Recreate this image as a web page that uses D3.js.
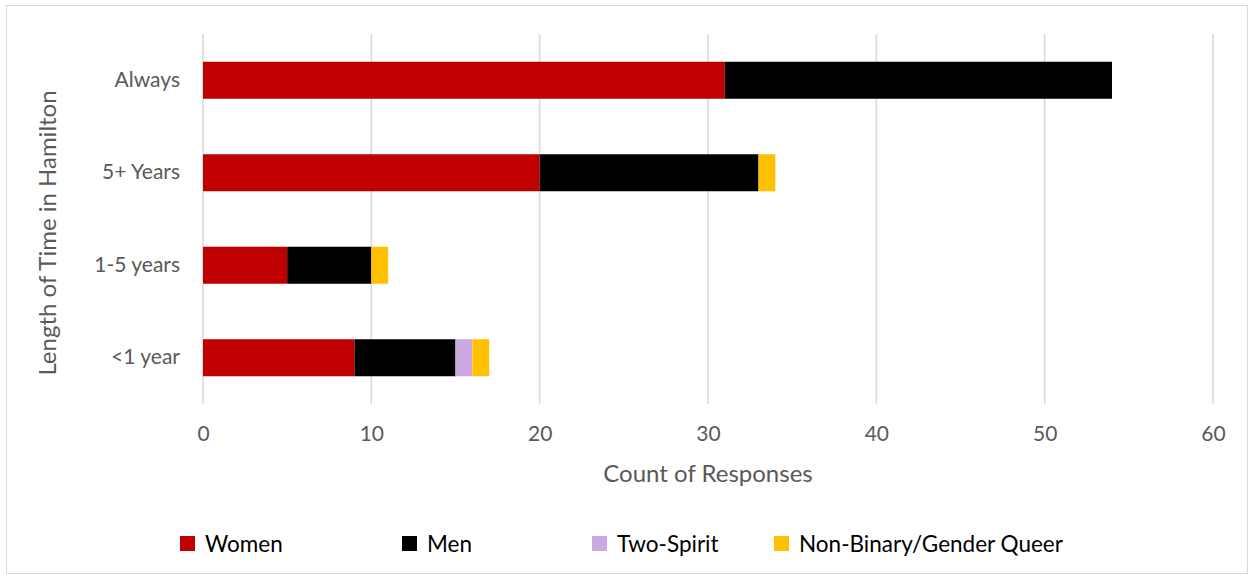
<!DOCTYPE html>
<html><head><meta charset="utf-8">
<script src="https://cdn.jsdelivr.net/npm/d3@7"></script>
<style>body{margin:0;background:#fff;} svg{display:block;}</style>
</head><body>
<svg id="c" width="1253" height="580"></svg>
<script>
const categories = ["Always", "5+ Years", "1-5 years", "<1 year"];
const seriesNames = ["Women", "Men", "Two-Spirit", "Non-Binary/Gender Queer"];
const women = [31, 20, 5, 9];
const men = [23, 13, 5, 6];
const twoSpirit = [0, 0, 0, 1];
const nonBinary = [0, 1, 1, 1];
const xTicks = [0, 10, 20, 30, 40, 50, 60];
const colors = ["#C00000", "#000000", "#CCA8E2", "#FFC000"];

const font = "Lato, 'Open Sans', sans-serif";
const svg = d3.select("#c");
svg.append("rect").attr("x", 6.5).attr("y", 5.5).attr("width", 1241).attr("height", 568)
  .attr("fill", "#fff").attr("stroke", "#d9d9d9");

const x = d3.scaleLinear().domain([0, 60]).range([203, 1213]);
const y = d3.scaleBand().domain(categories).range([34, 404]).paddingInner(0.6).paddingOuter(0.3);

const table = categories.map((c, i) => ({cat: c, "Women": women[i], "Men": men[i], "Two-Spirit": twoSpirit[i], "Non-Binary/Gender Queer": nonBinary[i]}));
const stack = d3.stack().keys(seriesNames)(table);

// gridlines
svg.append("g").selectAll("line").data(xTicks).join("line")
  .attr("x1", d => x(d)).attr("x2", d => x(d)).attr("y1", 34).attr("y2", 404)
  .attr("stroke", "#d9d9d9").attr("stroke-width", 1.5);

// bars
svg.append("g").selectAll("g").data(stack).join("g").attr("fill", (d, i) => colors[i])
  .selectAll("rect").data(d => d.filter(p => p[1] - p[0] > 0)).join("rect")
  .attr("x", d => x(d[0])).attr("width", d => x(d[1]) - x(d[0]))
  .attr("y", d => y(d.data.cat)).attr("height", y.bandwidth());

// x axis
const xAxis = svg.append("g").attr("transform", "translate(0,404)")
  .call(d3.axisBottom(x).tickValues(xTicks).tickSize(0).tickPadding(22));
xAxis.select(".domain").remove();
xAxis.selectAll("text").attr("font-family", font).attr("font-size", 21).attr("fill", "#595959");

// y axis
const yAxis = svg.append("g").attr("transform", "translate(180,0)")
  .call(d3.axisLeft(y).tickSize(0).tickPadding(0));
yAxis.select(".domain").remove();
yAxis.selectAll("text").attr("font-family", font).attr("font-size", 21).attr("fill", "#595959");

// titles
svg.append("text").attr("x", x(30)).attr("y", 482).attr("text-anchor", "middle")
  .attr("font-family", font).attr("font-size", 24).attr("fill", "#595959").text("Count of Responses");
svg.append("text").attr("transform", "translate(56,233) rotate(-90)").attr("text-anchor", "middle")
  .attr("font-family", font).attr("font-size", 24).attr("fill", "#595959").text("Length of Time in Hamilton");

// legend
const legX = [180, 402, 592, 774];
const leg = svg.append("g").selectAll("g").data(seriesNames).join("g")
  .attr("transform", (d, i) => `translate(${legX[i]},536)`);
leg.append("rect").attr("width", 15).attr("height", 15).attr("fill", (d, i) => colors[i]);
leg.append("text").attr("x", 25).attr("y", 15.5).attr("font-family", font).attr("font-size", 22.5)
  .attr("fill", "#000").text(d => d);
</script>
</body></html>
